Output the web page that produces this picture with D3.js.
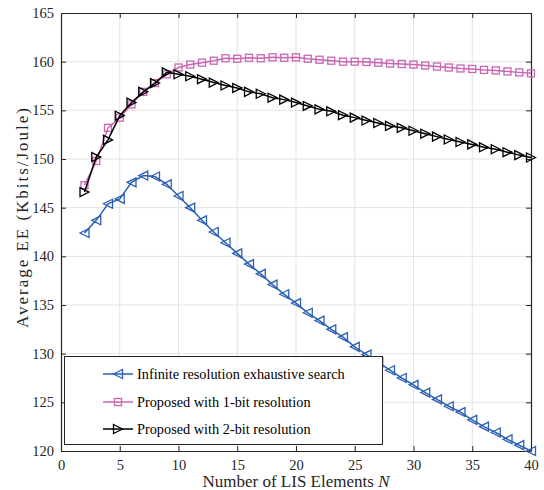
<!DOCTYPE html>
<html><head><meta charset="utf-8">
<script src="https://cdn.jsdelivr.net/npm/d3@7"></script>
<style>body{margin:0;background:#fff}svg{display:block}text{font-family:"Liberation Serif","Times New Roman",serif}</style>
</head><body>
<svg id="c" width="544" height="490"></svg>
<script>
const N = d3.range(2, 41);
const infinite = [142.4,143.7,145.4,145.9,147.6,148.3,148.2,147.4,146.2,145.0,143.7,142.5,141.4,140.3,139.2,138.2,137.1,136.1,135.2,134.2,133.4,132.5,131.7,130.7,129.9,129.1,128.3,127.5,126.8,126.0,125.3,124.6,124.0,123.2,122.5,121.9,121.2,120.6,120.0];
const oneBit = [147.3,149.8,153.2,154.25,155.6,156.9,157.8,158.7,159.4,159.7,159.9,160.1,160.35,160.3,160.4,160.35,160.45,160.4,160.45,160.3,160.2,160.1,160.0,160.0,159.97,159.9,159.8,159.76,159.7,159.6,159.5,159.4,159.3,159.25,159.15,159.1,159.0,158.9,158.8];
const twoBit = [146.6,150.2,151.96,154.45,155.8,156.9,157.8,158.9,158.7,158.5,158.2,157.85,157.55,157.3,156.9,156.7,156.3,156.1,155.8,155.45,155.1,154.9,154.5,154.25,153.95,153.7,153.4,153.2,152.9,152.6,152.3,152.0,151.75,151.5,151.2,151.0,150.7,150.4,150.15];
const xTicks = [0,5,10,15,20,25,30,35,40];
const yTicks = [120,125,130,135,140,145,150,155,160,165];
const seriesNames = ["Infinite resolution exhaustive search","Proposed with 1-bit resolution","Proposed with 2-bit resolution"];

const svg = d3.select("#c");
const L=61, R=531, T=13, B=451;
const x = d3.scaleLinear().domain([0,40]).range([L,R]);
const y = d3.scaleLinear().domain([120,165]).range([B,T]);

// grid
const g = svg.append("g");
g.selectAll(".gx").data(xTicks.slice(1,-1)).enter().append("line")
  .attr("x1",d=>x(d)).attr("x2",d=>x(d)).attr("y1",T).attr("y2",B)
  .attr("stroke","#e3e3e3").attr("stroke-width",1);
g.selectAll(".gy").data(yTicks.slice(1,-1)).enter().append("line")
  .attr("y1",d=>y(d)).attr("y2",d=>y(d)).attr("x1",L).attr("x2",R)
  .attr("stroke","#e3e3e3").attr("stroke-width",1);

// axes
const ax = d3.axisBottom(x).tickValues(xTicks).tickSizeInner(-5).tickSizeOuter(0).tickPadding(9);
const ay = d3.axisLeft(y).tickValues(yTicks).tickSizeInner(-5).tickSizeOuter(0).tickPadding(7);
const gx = svg.append("g").attr("transform",`translate(0,${B})`).call(ax);
const gy = svg.append("g").attr("transform",`translate(${L},0)`).call(ay);
const gxt = svg.append("g").attr("transform",`translate(0,${T})`).call(d3.axisTop(x).tickValues(xTicks).tickSizeInner(-5).tickSizeOuter(0).tickFormat(""));
const gyr = svg.append("g").attr("transform",`translate(${R},0)`).call(d3.axisRight(y).tickValues(yTicks).tickSizeInner(-5).tickSizeOuter(0).tickFormat(""));
[gx,gy,gxt,gyr].forEach(a=>{
  a.attr("font-family",null);
  a.select(".domain").attr("stroke","#262626").attr("stroke-width",1.2);
  a.selectAll(".tick line").attr("stroke","#262626");
  a.selectAll("text").attr("font-size",14.5).attr("fill","#262626");
});

function tri(dir, s){
  const h=s/2;
  return dir==='L' ? `M${-h},0L${h},${-h}L${h},${h}Z` : `M${h},0L${-h},${-h}L${-h},${h}Z`;
}
const series = [
  {vals:infinite, color:"#2b5fb4", marker:"L"},
  {vals:oneBit, color:"#c866b4", marker:"S"},
  {vals:twoBit, color:"#000000", marker:"R"}
];
function drawMarker(sel, m, color){
  if(m==='S') sel.append("rect").attr("x",-3.5).attr("y",-3.5).attr("width",7).attr("height",7)
    .attr("fill","none").attr("stroke",color).attr("stroke-width",1.3);
  else sel.append("path").attr("d",tri(m,9)).attr("fill","none").attr("stroke",color).attr("stroke-width",1.3);
}
const line = d3.line().x((d,i)=>x(N[i])).y(d=>y(d));
series.forEach(s=>{
  svg.append("path").datum(s.vals).attr("d",line).attr("fill","none").attr("stroke",s.color).attr("stroke-width",1.5);
  s.vals.forEach((v,i)=>{
    const mk = svg.append("g").attr("transform",`translate(${x(N[i])},${y(v)})`);
    drawMarker(mk, s.marker, s.color);
  });
});

// legend
const lg = svg.append("g");
lg.append("rect").attr("x",64.5).attr("y",356.5).attr("width",318).attr("height",88)
  .attr("fill","#fff").attr("stroke","#262626").attr("stroke-width",1);
const rowsY=[374,402,429];
series.forEach((s,i)=>{
  lg.append("line").attr("x1",103).attr("x2",133).attr("y1",rowsY[i]).attr("y2",rowsY[i]).attr("stroke",s.color).attr("stroke-width",1.5);
  const mk=lg.append("g").attr("transform",`translate(118,${rowsY[i]})`);
  drawMarker(mk,s.marker,s.color);
  lg.append("text").attr("x",137).attr("y",rowsY[i]).attr("dy","0.35em").attr("font-size",14.3).attr("fill","#000").text(seriesNames[i]);
});

// axis labels
svg.append("text").attr("x",(L+R)/2).attr("y",487).attr("text-anchor","middle").attr("font-size",17).attr("fill","#262626")
  .html('Number of LIS Elements <tspan font-style="italic">N</tspan>');
svg.append("text").attr("transform",`translate(28,218) rotate(-90)`).attr("text-anchor","middle").attr("font-size",17)
  .attr("fill","#262626").attr("textLength",220).attr("lengthAdjust","spacing")
  .text("Average EE (Kbits/Joule)");
</script>
</body></html>
